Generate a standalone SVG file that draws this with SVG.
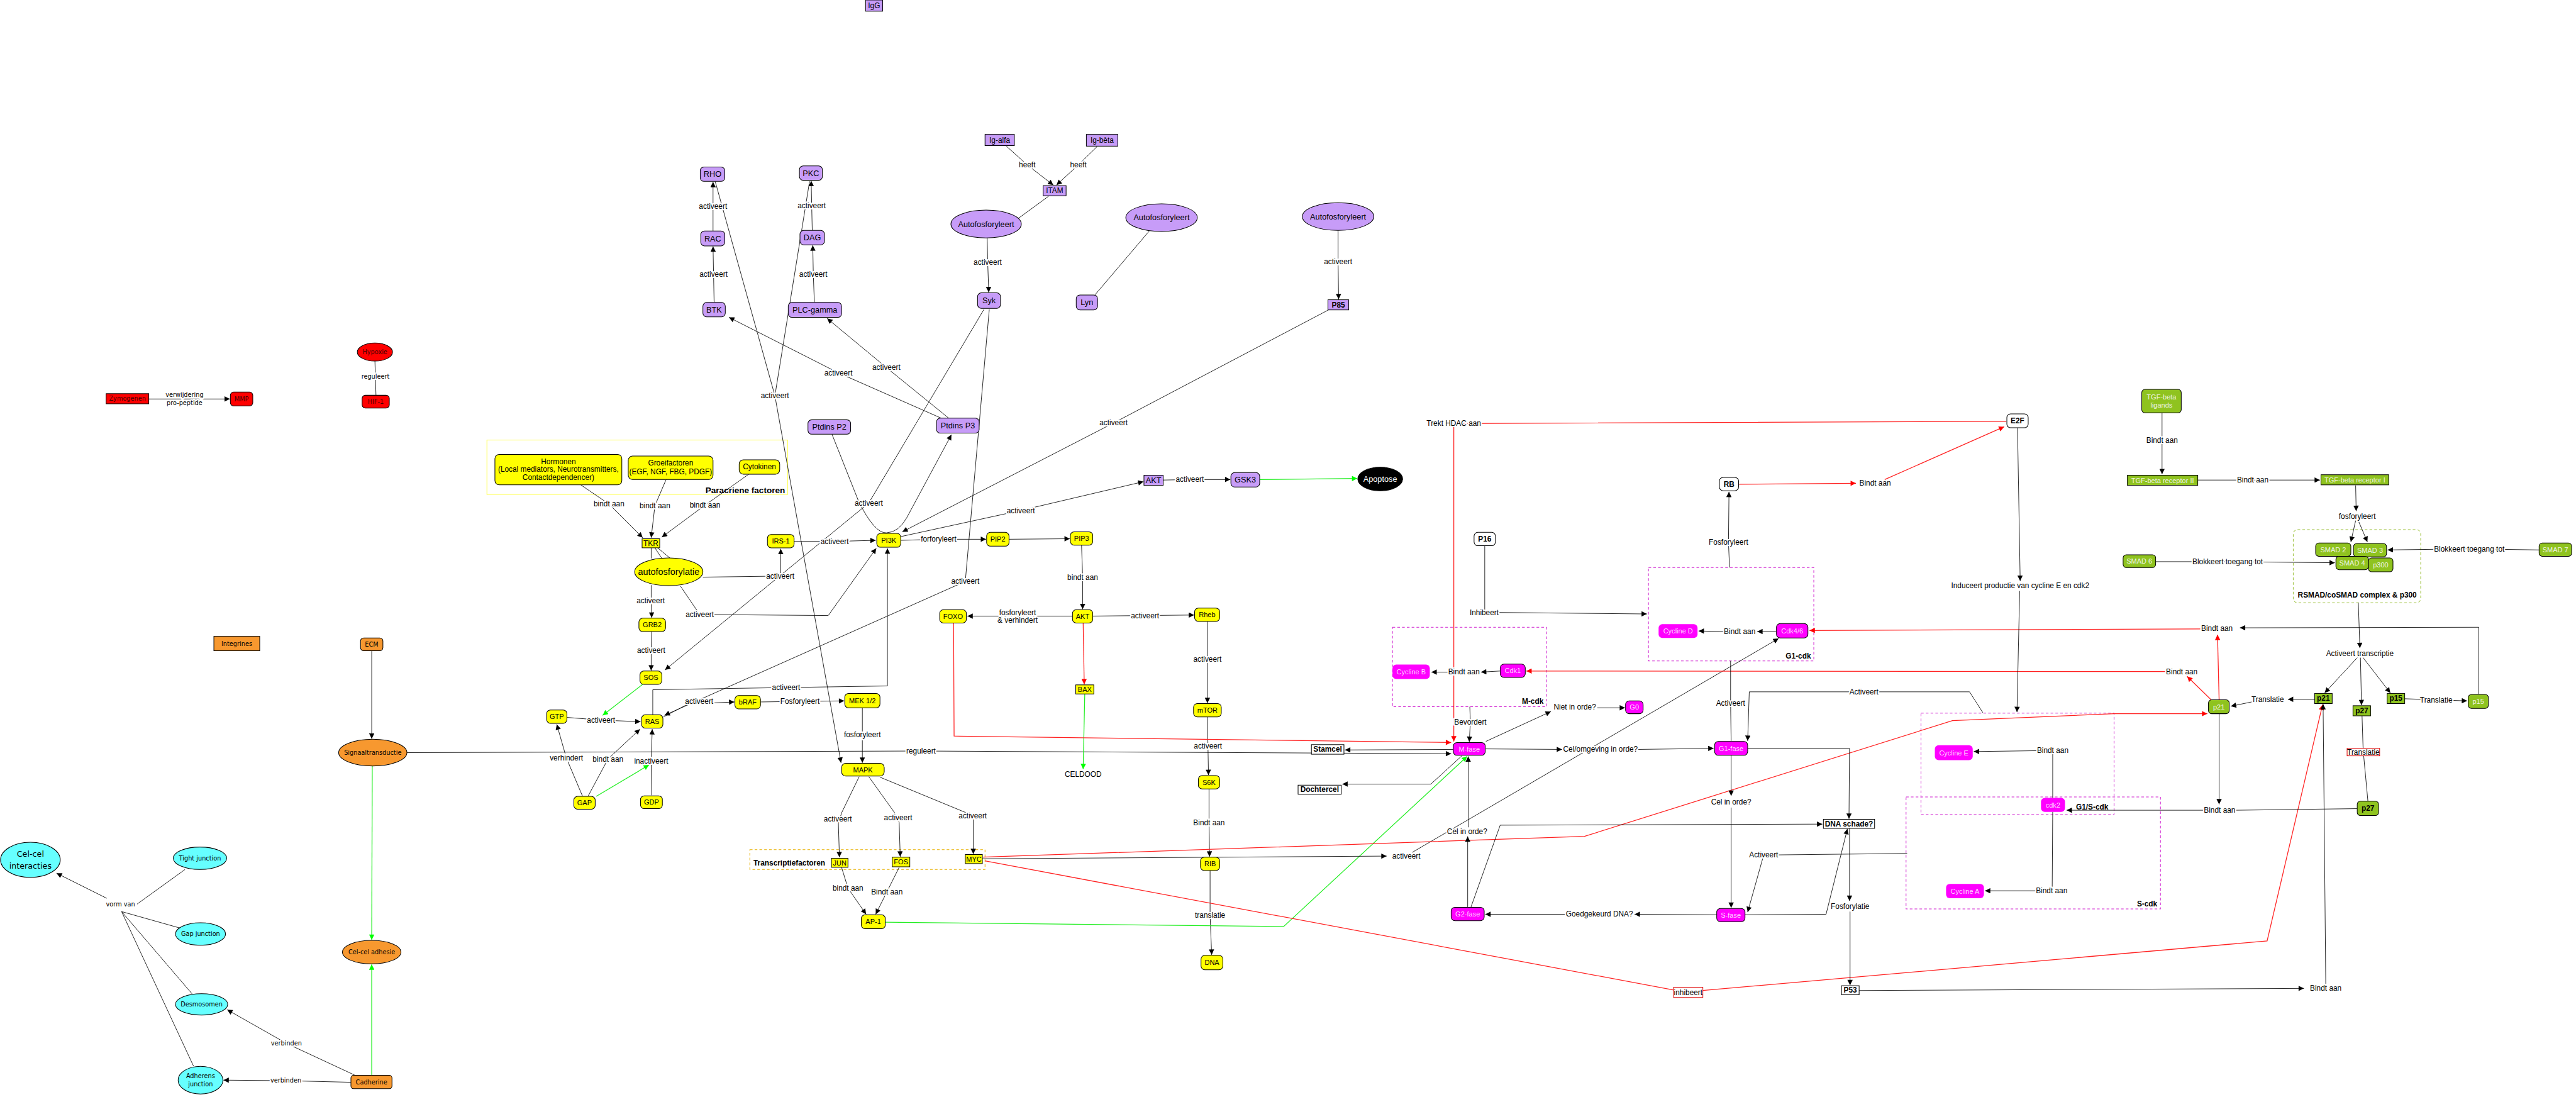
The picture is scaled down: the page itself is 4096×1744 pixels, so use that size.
<svg xmlns="http://www.w3.org/2000/svg" width="4096" height="1744" viewBox="0 0 4096 1744">
<defs>
<style>
.n{stroke:#000;stroke-width:1.2}
.y{fill:#ffff00}.p{fill:#c79cf8}.m{fill:#ff00ff}.g{fill:#8fc31f}.o{fill:#f7982f}.c{fill:#66ffff}.r{fill:#ff0000}.w{fill:#fff}
text{font-family:"Liberation Sans",Arial,sans-serif;text-anchor:middle;dominant-baseline:central;font-size:13px;fill:#000}
.t15{font-size:15px}.t16{font-size:16px}.t14{font-size:14px}
.b{font-weight:bold}
.d{font-family:"DejaVu Sans",Verdana,sans-serif;font-size:11.5px}
.rt{fill:#400}
.lt{fill:#ffd6ff}
.gt{fill:#f0f4e6}
.e{fill:none;stroke:#000;stroke-width:1}
.er{fill:none;stroke:#f22;stroke-width:1.5}
.eg{fill:none;stroke:#2e2;stroke-width:1.5}
.a{marker-end:url(#ah)}.ar{marker-end:url(#arr)}.ag{marker-end:url(#agg)}
.lb{font-size:14px;paint-order:stroke;stroke:#fff;stroke-width:5px;stroke-linejoin:round}
.ld{font-family:"DejaVu Sans",Verdana,sans-serif;font-size:11.5px;paint-order:stroke;stroke:#fff;stroke-width:5px;stroke-linejoin:round}
.bx{fill:none;stroke-dasharray:5 4;stroke-width:1.2}
</style>
<marker id="ah" viewBox="0 0 10 10" refX="10" refY="5" markerWidth="12" markerHeight="10" markerUnits="userSpaceOnUse" orient="auto"><path d="M0,0L10,5L0,10z" fill="#000"/></marker>
<marker id="arr" viewBox="0 0 10 10" refX="10" refY="5" markerWidth="12" markerHeight="10" markerUnits="userSpaceOnUse" orient="auto"><path d="M0,0L10,5L0,10z" fill="#f00"/></marker>
<marker id="agg" viewBox="0 0 10 10" refX="10" refY="5" markerWidth="12" markerHeight="10" markerUnits="userSpaceOnUse" orient="auto"><path d="M0,0L10,5L0,10z" fill="#0f0"/></marker>
</defs>
<rect width="4096" height="1744" fill="#fff"/>
<g transform="scale(0.848)">

<g id="groups">
<rect class="bx" x="913" y="825" width="564" height="102" stroke="#ffff55" style="stroke-dasharray:none"/>
<text class="b t16" x="1472" y="919" style="text-anchor:end">Paracriene factoren</text>
<rect class="bx" x="1406" y="1593" width="441" height="37" stroke="#e8b000"/>
<text class="b t14" x="1480" y="1618">Transcriptiefactoren</text>
<rect class="bx" x="2611" y="1176" width="289" height="149" stroke="#d020d0"/>
<text class="b t14" x="2874" y="1315">M-cdk</text>
<rect class="bx" x="3091" y="1064" width="310" height="175" stroke="#d020d0"/>
<text class="b t14" x="3372" y="1230">G1-cdk</text>
<rect class="bx" x="3602" y="1337" width="362" height="190" stroke="#d020d0"/>
<text class="b t14" x="3923" y="1513">G1/S-cdk</text>
<rect class="bx" x="3574" y="1494" width="477" height="210" stroke="#d020d0"/>
<text class="b t14" x="4026" y="1695">S-cdk</text>
<rect class="bx" x="4300" y="993" width="239" height="137" rx="8" stroke="#9cc03a"/>
<text class="b t14" x="4420" y="1116">RSMAD/coSMAD complex &amp; p300</text>
</g>

<g id="connectors">
<path class="e a" d="M279,748H431"/>
<path class="e" d="M703,677L705,741"/>
<path class="e a" d="M697,1220V1385"/>
<path class="eg ag" d="M698,1436L697,1762"/>
<path class="eg ag" d="M697,2016V1808"/>
<path class="e a" d="M666,2016L537,1956L426,1893"/>
<path class="e a" d="M658,2029L536,2026L419,2025"/>
<path class="e" d="M347,1630L257,1695M338,1740L228,1709M360,1863L228,1709M363,1999L228,1709"/>
<path class="e a" d="M200,1684L106,1637"/>
<path class="e a" d="M763,1411L1727,1408L2721,1413"/>

<path class="e a" d="M1089,909L1142,945L1205,1008"/>
<path class="e a" d="M1249,899L1228,948L1221,1008"/>
<path class="e a" d="M1404,889L1322,947L1241,1007"/>
<path class="e" d="M1221,1027V1047M1228,1027L1241,1047M1233,1027L1256,1046"/>
<path class="e a" d="M1221,1097L1221,1126L1222,1158"/>
<path class="e a" d="M1222,1184L1221,1219L1221,1257"/>
<path class="e a" d="M1318,1082L1464,1080L1464,1029"/>
<path class="e a" d="M1489,1015L1565,1015L1642,1013"/>
<path class="e a" d="M1276,1099L1312,1152L1553,1154L1643,1028"/>
<path class="eg ag" d="M1205,1283L1130,1341"/>
<path class="e a" d="M1063,1345L1127,1350L1201,1353"/>
<path class="e a" d="M1244,1344L1290,1320L1377,1316"/>
<path class="e a" d="M1855,580L1810,1090L1246,1341"/>
<path class="e a" d="M1224,1340V1293L1474,1289L1664,1286V1028"/>
<path class="e a" d="M1426,1316L1500,1315L1583,1314"/>
<path class="e a" d="M1617,1327V1430"/>
<path class="e" d="M1341,340L1453,742M1518,340L1453,742"/>
<path class="e a" d="M1453,742L1577,1430"/>
<path class="e a" d="M1339,567L1338,514L1337,462"/>
<path class="e a" d="M1337,433V341"/>
<path class="e a" d="M1527,567L1525,514L1524,460"/>
<path class="e a" d="M1523,432L1522,386L1521,339"/>
<path class="e a" d="M1765,784L1572,699L1367,595"/>
<path class="e a" d="M1779,784L1662,689L1551,597"/>
<path class="e a" d="M1560,814L1610,940Q1640,1000 1662,999Q1685,998 1700,971L1784,815"/>
<path class="e a" d="M1845,580L1629,943L1247,1256"/>
<path class="e a" d="M2491,581L2088,793L1692,997"/>
<path class="e a" d="M1689,1006L1914,957L2144,903"/>
<path class="e a" d="M1689,1013L1760,1011L1849,1011"/>
<path class="e a" d="M1892,1011L2006,1010"/>
<path class="e a" d="M2028,1022L2030,1082L2030,1142"/>
<path class="e a" d="M2011,1155H1814"/>
<path class="e a" d="M2049,1155L2147,1154L2239,1153"/>
<path class="er ar" d="M2031,1168L2033,1283"/>
<path class="eg ag" d="M2034,1301L2031,1442"/>
<path class="e a" d="M2264,1165V1318"/>
<path class="e a" d="M2264,1344L2265,1399L2266,1453"/>
<path class="e a" d="M2267,1479L2267,1543L2268,1606"/>
<path class="e a" d="M2269,1632L2269,1716L2272,1790"/>
<path class="e a" d="M2181,900L2231,899L2307,899"/>
<path class="eg ag" d="M2362,899L2545,897"/>
<path class="e a" d="M1611,1456L1578,1524L1572,1544L1574,1607"/>
<path class="e a" d="M1629,1456L1677,1523L1686,1542L1688,1606"/>
<path class="e a" d="M1650,1457L1810,1523L1825,1535L1825,1601"/>
<path class="e a" d="M1578,1626L1590,1665L1624,1714"/>
<path class="e a" d="M1686,1626L1663,1672L1642,1714"/>
<path class="eg ag" d="M1660,1729L2407,1737L2751,1418"/>
<path class="e a" d="M1842,1610L2600,1605"/>
<path class="e a" d="M2648,1598L3335,1197"/>
<path class="er ar" d="M1843,1607L2971,1568L3661,1351L3964,1338L4139,1338"/>
<path class="er" d="M1847,1614L3138,1856"/>
<path class="er ar" d="M3193,1857L4251,1764L4355,1321"/>
<path class="er ar" d="M1788,1168L1789,1380L2721,1392"/>
<path class="er ar" d="M3762,790L2726,794L2726,1390"/>
<path class="er ar" d="M3260,908L3480,906"/>
<path class="er ar" d="M3534,899L3758,800"/>
<path class="e a" d="M3243,1064L3241,1017L3242,922"/>
<path class="e a" d="M2784,1023L2784,1148L3088,1151"/>
<path class="e a" d="M3331,1184H3295"/>
<path class="e a" d="M3233,1184L3185,1183"/>
<path class="e a" d="M2813,1258L2777,1260"/>
<path class="e a" d="M2715,1260H2684"/>
<path class="er ar" d="M4161,1312L4158,1190"/>
<path class="er ar" d="M4126,1179L3393,1182"/>
<path class="e a" d="M4648,1301V1176L4200,1177"/>
<path class="er ar" d="M4146,1312L4101,1268"/>
<path class="er ar" d="M4060,1259L2862,1258"/>
<path class="e a" d="M2756,1325L2757,1354L2755,1391"/>
<path class="e a" d="M2786,1390L2908,1334"/>
<path class="e a" d="M2995,1327H3047"/>
<path class="e a" d="M2786,1404L2929,1405"/>
<path class="e a" d="M3072,1405L3213,1403"/>
<path class="e a" d="M2725,1405L2522,1406"/>
<path class="e a" d="M2741,1417L2683,1470H2517"/>
<path class="e a" d="M3246,1416V1492"/>
<path class="e a" d="M3246,1514V1702"/>
<path class="e a" d="M3277,1403H3468L3467,1535"/>
<path class="e a" d="M3219,1715L3065,1714"/>
<path class="e a" d="M2935,1714H2785"/>
<path class="e a" d="M2752,1701V1568"/>
<path class="e a" d="M2753,1551V1418"/>
<path class="e a" d="M2758,1701L2813,1547L3417,1545"/>
<path class="e a" d="M3272,1715L3424,1714L3464,1554"/>
<path class="e a" d="M3576,1600L3307,1603L3277,1710"/>
<path class="e a" d="M3468,1553V1689"/>
<path class="e a" d="M3469,1709V1847"/>
<path class="e a" d="M3486,1857L4320,1853"/>
<path class="e a" d="M4361,1845L4356,1320"/>
<path class="e a" d="M3718,1336L3693,1297H3280L3277,1389"/>
<path class="e" d="M3245,1239V1318L3246,1389"/>
<path class="e a" d="M3783,802L3788,1089"/>
<path class="e a" d="M3787,1108L3782,1335"/>
<path class="e a" d="M3849,1496V1407L3701,1409"/>
<path class="e a" d="M3849,1522L3848,1670H3722"/>
<path class="e a" d="M4161,1338V1508"/>
<path class="e a" d="M4131,1519H3875"/>
<path class="e" d="M4420,1516L4192,1519"/>
<path class="e a" d="M4340,1311H4290"/>
<path class="e a" d="M4222,1316L4183,1324"/>
<path class="e" d="M4429,1342L4431,1404M4432,1416L4440,1502"/>
<path class="e a" d="M4509,1310L4568,1312L4626,1314"/>
<path class="e a" d="M4054,774V889"/>
<path class="e a" d="M4121,900H4350"/>
<path class="e a" d="M4417,910L4418,958"/>
<path class="e a" d="M4417,976L4408,1016"/>
<path class="e a" d="M4422,976L4439,1016"/>
<path class="e a" d="M4042,1053L4177,1053L4378,1055"/>
<path class="e a" d="M4761,1031L4630,1029L4477,1031"/>
<path class="e a" d="M4422,1130L4425,1215"/>
<path class="e a" d="M4420,1233L4359,1299"/>
<path class="e a" d="M4426,1233L4428,1322"/>
<path class="e a" d="M4431,1233L4482,1299"/>
<path class="e a" d="M1887,274L1926,309L1975,347"/>
<path class="e a" d="M2057,275L2022,309L1981,347"/>
<path class="e" d="M1966,368L1910,409"/>
<path class="e a" d="M1851,446L1852,492L1854,548"/>
<path class="e" d="M2155,433L2053,553"/>
<path class="e a" d="M2509,432L2509,490L2510,561"/>
<path class="e a" d="M1092,1492L1062,1421L1044,1358"/>
<path class="e a" d="M1103,1492L1140,1423L1200,1367"/>
<path class="e a" d="M1222,1491L1221,1427L1223,1367"/>
<path class="eg ag" d="M1118,1493L1217,1434"/>

<rect x="3138" y="1851" width="55" height="19" fill="#fff" stroke="#d00" stroke-width="1.2"/>
<text class="t14" x="3165.5" y="1860.5">inhibeert</text>
<rect x="4401" y="1403" width="61" height="14" fill="#fff" stroke="#d00" stroke-width="1.2"/>
<text class="t14" x="4431.5" y="1410">Translatie</text>

<text class="ld" x="346" y="740">verwijdering</text>
<text class="ld" x="346" y="755">pro-peptide</text>
<text class="ld" x="704" y="706">reguleert</text>
<text class="ld" x="537" y="1956">verbinden</text>
<text class="ld" x="536" y="2025">verbinden</text>
<text class="ld" x="226" y="1695">vorm van</text>
<text class="lb" x="1727" y="1408">reguleert</text>
<text class="lb" x="1142" y="945">bindt aan</text>
<text class="lb" x="1228" y="948">bindt aan</text>
<text class="lb" x="1322" y="947">bindt aan</text>
<text class="lb" x="1220" y="1126">activeert</text>
<text class="lb" x="1221" y="1219">activeert</text>
<text class="lb" x="1463" y="1080">activeert</text>
<text class="lb" x="1565" y="1015">activeert</text>
<text class="lb" x="1312" y="1152">activeert</text>
<text class="lb" x="1127" y="1350">activeert</text>
<text class="lb" x="1311" y="1315">activeert</text>
<text class="lb" x="1810" y="1090">activeert</text>
<text class="lb" x="1474" y="1289">activeert</text>
<text class="lb" x="1500" y="1315">Fosforyleert</text>
<text class="lb" x="1617" y="1377">fosforyleert</text>
<text class="lb" x="1453" y="742">activeert</text>
<text class="lb" x="1338" y="514">activeert</text>
<text class="lb" x="1337" y="387">activeert</text>
<text class="lb" x="1525" y="514">activeert</text>
<text class="lb" x="1522" y="386">activeert</text>
<text class="lb" x="1572" y="699">activeert</text>
<text class="lb" x="1662" y="689">activeert</text>
<text class="lb" x="1629" y="943">activeert</text>
<text class="lb" x="2088" y="793">activeert</text>
<text class="lb" x="1914" y="957">activeert</text>
<text class="lb" x="1760" y="1011">forforyleert</text>
<text class="lb" x="2030" y="1082">bindt aan</text>
<text class="lb" x="1908" y="1148">fosforyleert</text>
<text class="lb" x="1908" y="1163">&amp; verhindert</text>
<text class="lb" x="2147" y="1154">activeert</text>
<text class="lb" x="2031" y="1452">CELDOOD</text>
<text class="lb" x="2264" y="1236">activeert</text>
<text class="lb" x="2265" y="1399">activeert</text>
<text class="lb" x="2267" y="1543">Bindt aan</text>
<text class="lb" x="2269" y="1716">translatie</text>
<text class="lb" x="2231" y="899">activeert</text>
<text class="lb" x="1571" y="1535">activeert</text>
<text class="lb" x="1684" y="1533">activeert</text>
<text class="lb" x="1824" y="1530">activeert</text>
<text class="lb" x="1590" y="1665">bindt aan</text>
<text class="lb" x="1663" y="1672">Bindt aan</text>
<text class="lb" x="2637" y="1605">activeert</text>
<text class="lb" x="2726" y="794">Trekt HDAC aan</text>
<text class="lb" x="3516" y="906">Bindt aan</text>
<text class="lb" x="3241" y="1017">Fosforyleert</text>
<text class="lb" x="2783" y="1148">Inhibeert</text>
<text class="lb" x="3262" y="1184">Bindt aan</text>
<text class="lb" x="2745" y="1260">Bindt aan</text>
<text class="lb" x="4157" y="1178">Bindt aan</text>
<text class="lb" x="4091" y="1259">Bindt aan</text>
<text class="lb" x="2757" y="1354">Bevordert</text>
<text class="lb" x="2953" y="1326">Niet in orde?</text>
<text class="lb" x="3001" y="1405">Cel/omgeving in orde?</text>
<text class="lb" x="3246" y="1503">Cel in orde?</text>
<text class="lb" x="2999" y="1713">Goedgekeurd DNA?</text>
<text class="lb" x="2751" y="1559">Cel in orde?</text>
<text class="lb" x="3307" y="1603">Activeert</text>
<text class="lb" x="3469" y="1699">Fosforylatie</text>
<text class="lb" x="4361" y="1853">Bindt aan</text>
<text class="lb" x="3495" y="1297">Activeert</text>
<text class="lb" x="3245" y="1318">Activeert</text>
<text class="lb" x="3788" y="1098">Induceert productie van cycline E en cdk2</text>
<text class="lb" x="3849" y="1407">Bindt aan</text>
<text class="lb" x="3847" y="1670">Bindt aan</text>
<text class="lb" x="4162" y="1519">Bindt aan</text>
<text class="lb" x="4252" y="1311">Translatie</text>
<text class="lb" x="4568" y="1312">Translatie</text>
<text class="lb" x="4054" y="825">Bindt aan</text>
<text class="lb" x="4224" y="900">Bindt aan</text>
<text class="lb" x="4420" y="968">fosforyleert</text>
<text class="lb" x="4177" y="1053">Blokkeert toegang tot</text>
<text class="lb" x="4630" y="1029">Blokkeert toegang tot</text>
<text class="lb" x="4425" y="1225">Activeert transcriptie</text>
<text class="lb" x="1926" y="309">heeft</text>
<text class="lb" x="2022" y="309">heeft</text>
<text class="lb" x="1852" y="492">activeert</text>
<text class="lb" x="2509" y="490">activeert</text>
<text class="lb" x="1062" y="1421">verhindert</text>
<text class="lb" x="1140" y="1423">bindt aan</text>
<text class="lb" x="1221" y="1427">inactiveert</text>
</g>

<g id="hypoxie"><ellipse class="n r" cx="703" cy="660" rx="33" ry="17"/><text class="d rt" x="703" y="660">Hypoxie</text></g>
<g id="hif1"><rect class="n r" x="679" y="741" width="51" height="24" rx="6"/><text class="d rt" x="704.5" y="753">HIF-1</text></g>
<g id="zymogenen"><rect class="n r" x="199" y="738" width="80" height="19"/><text class="d rt" x="239" y="747.5">Zymogenen</text></g>
<g id="mmp"><rect class="n r" x="432" y="735" width="42" height="26" rx="6"/><text class="d rt" x="453" y="748">MMP</text></g>
<g id="integrines"><rect class="n o" x="401" y="1193" width="86" height="27"/><text class="d" x="444" y="1206.5">Integrines</text></g>
<g id="ecm"><rect class="n o" x="676" y="1196" width="42" height="24" rx="6"/><text class="d" x="697" y="1208">ECM</text></g>
<g id="signaaltransductie"><ellipse class="n o" cx="699" cy="1411" rx="64" ry="25"/><text class="d" x="699" y="1411">Signaaltransductie</text></g>
<g id="celceladhesie"><ellipse class="n o" cx="697" cy="1785" rx="55" ry="22"/><text class="d" x="697" y="1785">Cel-cel adhesie</text></g>
<g id="cadherine"><rect class="n o" x="658" y="2016" width="77" height="25" rx="5"/><text class="d" x="696.5" y="2028.5">Cadherine</text></g>
<g id="celcelinteracties"><ellipse class="n c" cx="57" cy="1612" rx="56" ry="33"/><text class="d" style="font-size:15px" x="57" y="1601">Cel-cel</text><text class="d" style="font-size:15px" x="57" y="1623">interacties</text></g>
<g id="tightjunction"><ellipse class="n c" cx="375" cy="1609" rx="50" ry="21"/><text class="d" x="375" y="1609">Tight junction</text></g>
<g id="gapjunction"><ellipse class="n c" cx="376" cy="1751" rx="47" ry="21"/><text class="d" x="376" y="1751">Gap junction</text></g>
<g id="desmosomen"><ellipse class="n c" cx="378" cy="1883" rx="49" ry="20"/><text class="d" x="378" y="1883">Desmosomen</text></g>
<g id="adherensjunction"><ellipse class="n c" cx="376" cy="2025" rx="42" ry="26"/><text class="d" x="376" y="2017">Adherens</text><text class="d" x="376" y="2033">junction</text></g>

<g id="hormonen"><rect class="n y" x="928" y="852" width="238" height="57" rx="8"/><text class="t14" x="1047" y="865">Hormonen</text><text class="t14" x="1047" y="880">(Local mediators, Neurotransmitters,</text><text class="t14" x="1047" y="895">Contactdependencer)</text></g>
<g id="groeifactoren"><rect class="n y" x="1178" y="855" width="159" height="44" rx="8"/><text class="t14" x="1257.5" y="868">Groeifactoren</text><text class="t14" x="1257.5" y="884">(EGF, NGF, FBG, PDGF)</text></g>
<g id="cytokinen"><rect class="n y" x="1386" y="862" width="76" height="27" rx="8"/><text class="t14" x="1424" y="875.5">Cytokinen</text></g>
<g id="tkr"><rect class="n y" x="1204" y="1010" width="33" height="17"/><text class="t14" x="1220.5" y="1018.5">TKR</text></g>
<g id="autofosforylatie"><ellipse class="n y" cx="1254" cy="1072" rx="64" ry="26"/><text style="font-size:17px" x="1254" y="1072">autofosforylatie</text></g>
<g id="irs1"><rect class="n y" x="1439" y="1002" width="50" height="25" rx="7"/><text x="1464" y="1014.5">IRS-1</text></g>
<g id="pi3k"><rect class="n y" x="1644" y="1000" width="45" height="26" rx="7"/><text x="1666.5" y="1013">PI3K</text></g>
<g id="grb2"><rect class="n y" x="1198" y="1159" width="50" height="25" rx="7"/><text x="1223" y="1171.5">GRB2</text></g>
<g id="sos"><rect class="n y" x="1200" y="1258" width="41" height="25" rx="7"/><text x="1220.5" y="1270.5">SOS</text></g>
<g id="gtp"><rect class="n y" x="1025" y="1331" width="38" height="25" rx="7"/><text x="1044" y="1343.5">GTP</text></g>
<g id="ras"><rect class="n y" x="1203" y="1340" width="40" height="25" rx="7"/><text x="1223" y="1352.5">RAS</text></g>
<g id="braf"><rect class="n y" x="1378" y="1304" width="48" height="25" rx="7"/><text x="1402" y="1316.5">bRAF</text></g>
<g id="mek"><rect class="n y" x="1584" y="1300" width="66" height="27" rx="7"/><text x="1617" y="1313.5">MEK 1/2</text></g>
<g id="mapk"><rect class="n y" x="1578" y="1431" width="80" height="24" rx="8"/><text x="1618" y="1443">MAPK</text></g>
<g id="gap"><rect class="n y" x="1076" y="1493" width="40" height="24" rx="7"/><text x="1096" y="1505">GAP</text></g>
<g id="gdp"><rect class="n y" x="1201" y="1492" width="41" height="24" rx="7"/><text x="1221.5" y="1504">GDP</text></g>
<g id="pip2"><rect class="n y" x="1850" y="998" width="42" height="26" rx="7"/><text x="1871" y="1011">PIP2</text></g>
<g id="pip3"><rect class="n y" x="2007" y="997" width="42" height="25" rx="7"/><text x="2028" y="1009.5">PIP3</text></g>
<g id="akt-y"><rect class="n y" x="2011" y="1143" width="38" height="25" rx="7"/><text x="2030" y="1155.5">AKT</text></g>
<g id="foxo"><rect class="n y" x="1762" y="1143" width="50" height="25" rx="7"/><text x="1787" y="1155.5">FOXO</text></g>
<g id="rheb"><rect class="n y" x="2240" y="1140" width="47" height="25" rx="7"/><text x="2263.5" y="1152.5">Rheb</text></g>
<g id="mtor"><rect class="n y" x="2238" y="1319" width="52" height="25" rx="7"/><text x="2264" y="1331.5">mTOR</text></g>
<g id="bax"><rect class="n y" x="2017" y="1284" width="34" height="17"/><text x="2034" y="1292.5">BAX</text></g>
<g id="s6k"><rect class="n y" x="2247" y="1454" width="40" height="25" rx="7"/><text x="2267" y="1466.5">S6K</text></g>
<g id="rib"><rect class="n y" x="2251" y="1607" width="36" height="25" rx="7"/><text x="2269" y="1619.5">RIB</text></g>
<g id="dna"><rect class="n y" x="2252" y="1791" width="41" height="27" rx="7"/><text x="2272.5" y="1804.5">DNA</text></g>
<g id="jun"><rect class="n y" x="1559" y="1609" width="31" height="17"/><text x="1574.5" y="1617.5">JUN</text></g>
<g id="fos"><rect class="n y" x="1673" y="1607" width="33" height="18"/><text x="1689.5" y="1616">FOS</text></g>
<g id="myc"><rect class="n y" x="1810" y="1602" width="32" height="17"/><text x="1826" y="1610.5">MYC</text></g>
<g id="ap1"><rect class="n y" x="1615" y="1715" width="45" height="26" rx="7"/><text x="1637.5" y="1728">AP-1</text></g>

<g id="rho"><rect class="n p" x="1313" y="313" width="46" height="27" rx="7"/><text class="t15" x="1336" y="326.5">RHO</text></g>
<g id="pkc"><rect class="n p" x="1499" y="311" width="43" height="27" rx="7"/><text class="t15" x="1520.5" y="324.5">PKC</text></g>
<g id="rac"><rect class="n p" x="1314" y="433" width="45" height="28" rx="7"/><text class="t15" x="1336.5" y="447">RAC</text></g>
<g id="dag"><rect class="n p" x="1500" y="432" width="46" height="27" rx="7"/><text class="t15" x="1523" y="445.5">DAG</text></g>
<g id="btk"><rect class="n p" x="1318" y="567" width="42" height="27" rx="7"/><text class="t15" x="1339" y="580.5">BTK</text></g>
<g id="plcgamma"><rect class="n p" x="1478" y="567" width="100" height="28" rx="7"/><text class="t15" x="1528" y="581">PLC-gamma</text></g>
<g id="ptdinsp2"><rect class="n p" x="1515" y="787" width="80" height="27" rx="7"/><text class="t15" x="1555" y="800.5">Ptdins P2</text></g>
<g id="ptdinsp3"><rect class="n p" x="1756" y="784" width="80" height="28" rx="7"/><text class="t15" x="1796" y="798">Ptdins P3</text></g>
<g id="igg"><rect class="n p" x="1623" y="0" width="32" height="21"/><text class="t14" x="1639" y="10.5">IgG</text></g>
<g id="igalfa"><rect class="n p" x="1847" y="252" width="55" height="21"/><text class="t14" x="1874.5" y="262.5">Ig-alfa</text></g>
<g id="igbeta"><rect class="n p" x="2037" y="252" width="59" height="22"/><text class="t14" x="2066.5" y="263">Ig-bèta</text></g>
<g id="itam"><rect class="n p" x="1956" y="348" width="43" height="19"/><text class="t14" x="1977.5" y="357.5">ITAM</text></g>
<g id="autofos1"><ellipse class="n p" cx="1849" cy="420" rx="66" ry="26"/><text class="t15" x="1849" y="420">Autofosforyleert</text></g>
<g id="autofos2"><ellipse class="n p" cx="2178" cy="408" rx="67" ry="26"/><text class="t15" x="2178" y="408">Autofosforyleert</text></g>
<g id="autofos3"><ellipse class="n p" cx="2509" cy="406" rx="67" ry="26"/><text class="t15" x="2509" y="406">Autofosforyleert</text></g>
<g id="syk"><rect class="n p" x="1833" y="549" width="43" height="29" rx="7"/><text class="t15" x="1854.5" y="563.5">Syk</text></g>
<g id="lyn"><rect class="n p" x="2018" y="553" width="40" height="28" rx="7"/><text class="t15" x="2038" y="567">Lyn</text></g>
<g id="p85"><rect class="n p" x="2490" y="562" width="39" height="19"/><text class="t14 b" x="2509.5" y="571.5">P85</text></g>
<g id="akt-p"><rect class="n p" x="2145" y="891" width="36" height="19"/><text class="t15" x="2163" y="900.5">AKT</text></g>
<g id="gsk3"><rect class="n p" x="2308" y="886" width="54" height="27" rx="7"/><text class="t15" x="2335" y="899.5">GSK3</text></g>
<g id="apoptose"><ellipse class="n" fill="#000" cx="2588" cy="898" rx="42" ry="22"/><text class="t15" style="fill:#fff" x="2588" y="898">Apoptose</text></g>

<g id="cyclineb"><rect class="m" x="2611" y="1246" width="70" height="27" rx="7"/><text class="lt" x="2646" y="1259.5">Cycline B</text></g>
<g id="cdk1"><rect class="n m" x="2813" y="1245" width="47" height="25" rx="7"/><text class="lt" x="2836.5" y="1257.5">Cdk1</text></g>
<g id="cyclined"><rect class="m" x="3110" y="1170" width="73" height="26" rx="7"/><text class="lt" x="3146.5" y="1183">Cycline D</text></g>
<g id="cdk46"><rect class="n m" x="3331" y="1169" width="59" height="27" rx="7"/><text class="lt" x="3360.5" y="1182.5">Cdk4/6</text></g>
<g id="g0"><rect class="n m" x="3048" y="1314" width="33" height="24" rx="7"/><text class="lt" x="3064.5" y="1326">G0</text></g>
<g id="mfase"><rect class="n m" x="2725" y="1392" width="60" height="24" rx="7"/><text class="lt" x="2755" y="1404">M-fase</text></g>
<g id="g1fase"><rect class="n m" x="3215" y="1390" width="62" height="26" rx="7"/><text class="lt" x="3246" y="1403">G1-fase</text></g>
<g id="sfase"><rect class="n m" x="3219" y="1703" width="53" height="25" rx="7"/><text class="lt" x="3245.5" y="1715.5">S-fase</text></g>
<g id="g2fase"><rect class="n m" x="2721" y="1701" width="62" height="25" rx="7"/><text class="lt" x="2752" y="1713.5">G2-fase</text></g>
<g id="cyclinee"><rect class="m" x="3628" y="1397" width="71" height="28" rx="7"/><text class="lt" x="3663.5" y="1411">Cycline E</text></g>
<g id="cdk2"><rect class="m" x="3827" y="1496" width="45" height="26" rx="7"/><text class="lt" x="3849.5" y="1509">cdk2</text></g>
<g id="cyclinea"><rect class="m" x="3649" y="1657" width="71" height="27" rx="7"/><text class="lt" x="3684.5" y="1670.5">Cycline A</text></g>
<g id="stamcel"><rect class="n w" x="2459" y="1396" width="61" height="18"/><text class="t14 b" x="2489.5" y="1405">Stamcel</text></g>
<g id="dochtercel"><rect class="n w" x="2434" y="1472" width="81" height="17"/><text class="t14 b" x="2474.5" y="1480.5">Dochtercel</text></g>
<g id="dnaschade"><rect class="n w" x="3419" y="1536" width="96" height="17"/><text class="t14 b" x="3467" y="1544.5">DNA schade?</text></g>
<g id="p53"><rect class="n w" x="3453" y="1848" width="33" height="17"/><text class="t14 b" x="3469.5" y="1856.5">P53</text></g>
<g id="rb"><rect class="n w" x="3224" y="895" width="36" height="25" rx="7"/><text class="t14 b" x="3242" y="907.5">RB</text></g>
<g id="p16"><rect class="n w" x="2764" y="998" width="40" height="25" rx="7"/><text class="t14 b" x="2784" y="1010.5">P16</text></g>
<g id="e2f"><rect class="n w" x="3763" y="776" width="40" height="26" rx="7"/><text class="t14 b" x="3783" y="789">E2F</text></g>

<g id="tgfligands"><rect class="n g" x="4016" y="730" width="74" height="44" rx="6"/><text class="gt" x="4053" y="744">TGF-beta</text><text class="gt" x="4053" y="760">ligands</text></g>
<g id="tgfr2"><rect class="n g" x="3989" y="891" width="132" height="19"/><text class="gt" x="4055" y="900.5">TGF-beta receptor II</text></g>
<g id="tgfr1"><rect class="n g" x="4352" y="890" width="127" height="19"/><text class="gt" x="4415.5" y="899.5">TGF-beta receptor I</text></g>
<g id="smad2"><rect class="n g" x="4342" y="1018" width="66" height="25" rx="6"/><text class="gt" x="4375" y="1030.5">SMAD 2</text></g>
<g id="smad3"><rect class="n g" x="4413" y="1019" width="62" height="25" rx="6"/><text class="gt" x="4444" y="1031.5">SMAD 3</text></g>
<g id="smad4"><rect class="n g" x="4380" y="1043" width="61" height="25" rx="6"/><text class="gt" x="4410.5" y="1055.5">SMAD 4</text></g>
<g id="p300"><rect class="n g" x="4441" y="1046" width="46" height="26" rx="6"/><text class="gt" x="4464" y="1059">p300</text></g>
<g id="smad6"><rect class="n g" x="3981" y="1040" width="61" height="24" rx="6"/><text class="gt" x="4011.5" y="1052">SMAD 6</text></g>
<g id="smad7"><rect class="n g" x="4761" y="1018" width="61" height="25" rx="6"/><text class="gt" x="4791.5" y="1030.5">SMAD 7</text></g>
<g id="p21r"><rect class="n g" x="4141" y="1312" width="39" height="26" rx="6"/><text class="gt" x="4160.5" y="1325">p21</text></g>
<g id="p21b"><rect class="n g" x="4340" y="1300" width="33" height="19"/><text class="t14 b" x="4356.5" y="1309.5">p21</text></g>
<g id="p27b"><rect class="n g" x="4412" y="1323" width="33" height="19"/><text class="t14 b" x="4428.5" y="1332.5">p27</text></g>
<g id="p15b"><rect class="n g" x="4476" y="1300" width="33" height="19"/><text class="t14 b" x="4492.5" y="1309.5">p15</text></g>
<g id="p15r"><rect class="n g" x="4628" y="1302" width="38" height="26" rx="6"/><text class="gt" x="4647" y="1315">p15</text></g>
<g id="p27r"><rect class="n g" x="4420" y="1502" width="40" height="27" rx="6"/><text class="t14 b" x="4440" y="1515.5">p27</text></g>
</g>
</svg>
